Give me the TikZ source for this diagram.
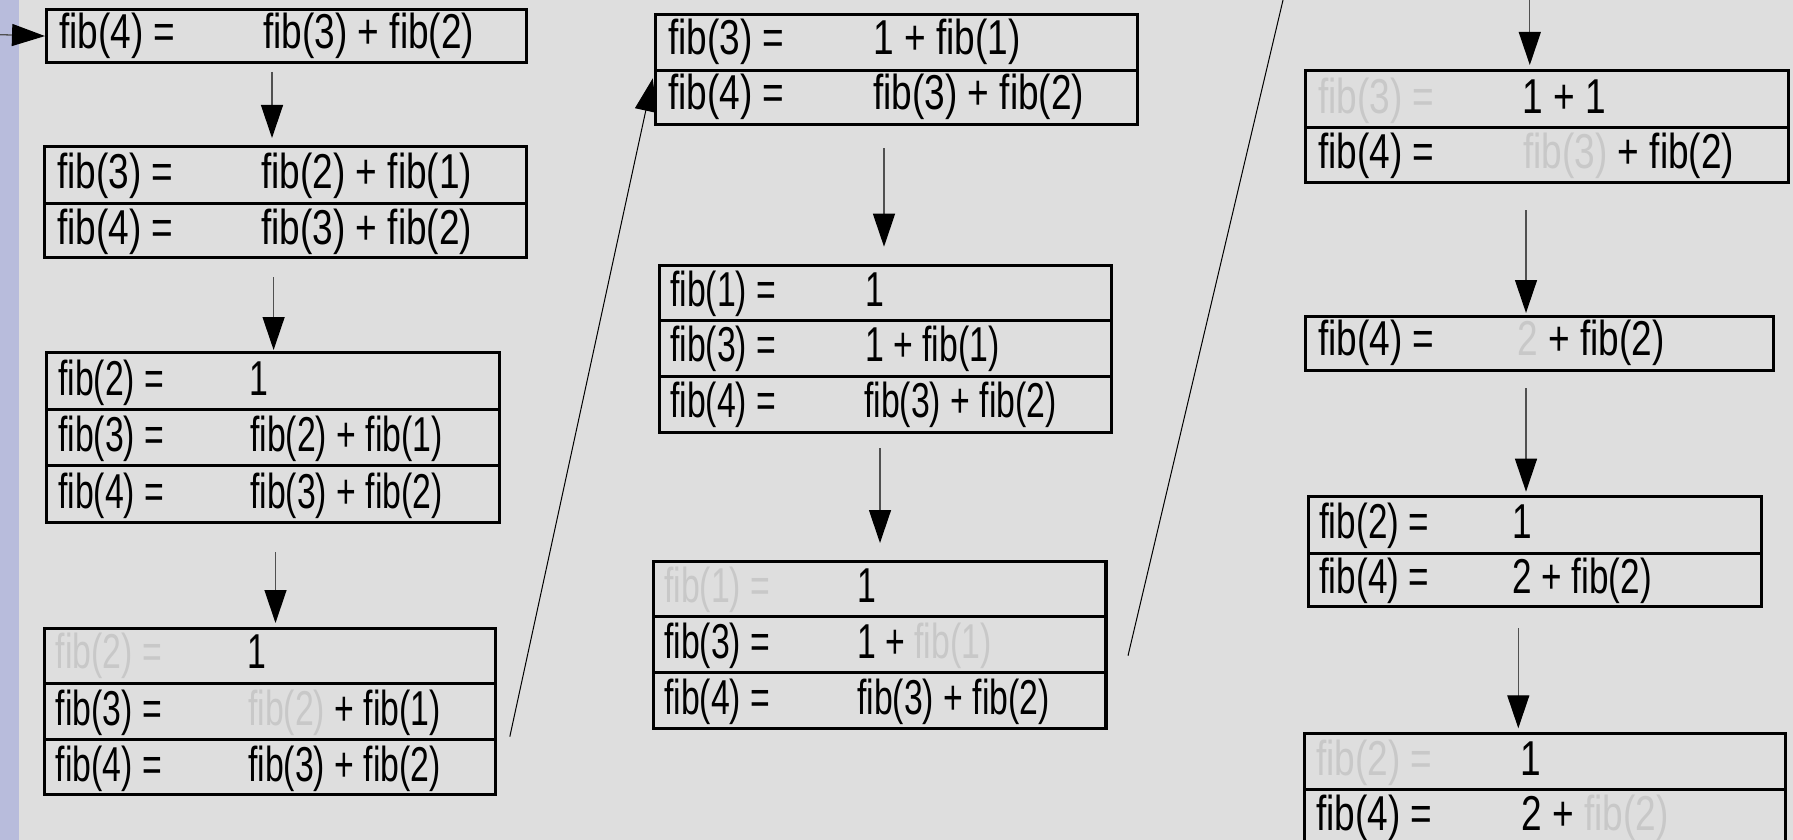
\documentclass[tikz,border=0pt]{standalone}
\usepackage{fontspec}
\setmainfont{Liberation Sans}[FakeStretch=0.756]
\newfontfamily\narrowA{Liberation Sans}[FakeStretch=0.69]
\newfontfamily\narrowB{Liberation Sans}[FakeStretch=0.717]
\usetikzlibrary{arrows.meta}
\definecolor{bg}{RGB}{222,222,222}
\definecolor{strip}{RGB}{184,188,220}
\definecolor{faint}{RGB}{200,200,200}
\definecolor{shaft}{RGB}{80,80,80}
\tikzset{
  row/.style={draw=black, line width=3.1pt, rectangle, inner sep=0pt, anchor=north west},
  lbl/.style={inner sep=0pt, anchor=base west, font=\fontsize{49pt}{55pt}\selectfont},
  lbla/.style={inner sep=0pt, anchor=base west, font=\narrowA\fontsize{49pt}{55pt}\selectfont},
  lblb/.style={inner sep=0pt, anchor=base west, font=\narrowB\fontsize{49pt}{55pt}\selectfont},
  flow/.style={draw=shaft, line width=1.3pt, -{Triangle[length=33pt,width=22pt,color=black]}},
  jump/.style={draw=black, line width=1pt},
}
\newcommand\fa[1]{{\color{faint}#1}}
\begin{document}
\begin{tikzpicture}[x=1pt,y=-1pt]
\useasboundingbox (0,0) rectangle (1793,840);
\clip (0,0) rectangle (1793,840);
\fill[bg] (0,0) rectangle (1793,840);
\fill[strip] (0,0) rectangle (19,840);

% ---------- column 1 ----------
\node[row, minimum width=480pt, minimum height=53pt] (b1a) at (45,8) {};
\node[lbl] (t1a) at (59,49) {fib(4) =};
\node[lbl] (u1a) at (263,49) {fib(3) + fib(2)};

\node[row, minimum width=482pt, minimum height=56.5pt] (b2a) at (43,145) {};
\node[row, minimum width=482pt, minimum height=54.5pt] (b2b) at (43,201.5) {};
\node[lbl] (t2a) at (57,188) {fib(3) =};
\node[lbl] (u2a) at (261,188) {fib(2) + fib(1)};
\node[lbl] (t2b) at (57,244) {fib(4) =};
\node[lbl] (u2b) at (261,244) {fib(3) + fib(2)};

\node[row, minimum width=452.5pt, minimum height=56.7pt] (b3a) at (45,351) {};
\node[row, minimum width=452.5pt, minimum height=56.3pt] (b3b) at (45,407.7) {};
\node[row, minimum width=452.5pt, minimum height=56.7pt] (b3c) at (45,464) {};
\node[lbla] (t3a) at (58,395) {fib(2) =};
\node[lbla] (u3a) at (249,395) {1};
\node[lbla] (t3b) at (58,451.7) {fib(3) =};
\node[lbla] (u3b) at (250,451.7) {fib(2) + fib(1)};
\node[lbla] (t3c) at (58,508.3) {fib(4) =};
\node[lbla] (u3c) at (250,508.3) {fib(3) + fib(2)};

\node[row, minimum width=451pt, minimum height=55pt] (b4a) at (43,626.7) {};
\node[row, minimum width=451pt, minimum height=56pt] (b4b) at (43,681.7) {};
\node[row, minimum width=451pt, minimum height=55.6pt] (b4c) at (43,737.7) {};
\node[lbla] (t4a) at (55.5,668.3) {\fa{fib(2) =}};
\node[lbla] (u4a) at (247,668.3) {1};
\node[lbla] (t4b) at (55.5,725) {fib(3) =};
\node[lbla] (u4b) at (248,725) {\fa{fib(2)} + fib(1)};
\node[lbla] (t4c) at (55.5,781) {fib(4) =};
\node[lbla] (u4c) at (248,781) {fib(3) + fib(2)};

% ---------- column 2 ----------
\node[row, minimum width=482.4pt, minimum height=56.3pt] (c1a) at (653.6,12.7) {};
\node[row, minimum width=482.4pt, minimum height=54.3pt] (c1b) at (653.6,69) {};
\node[lbl] (v1a) at (668,55) {fib(3) =};
\node[lbl] (w1a) at (873,55) {1 + fib(1)};
\node[lbl] (v1b) at (668,110) {fib(4) =};
\node[lbl] (w1b) at (873,110) {fib(3) + fib(2)};

\node[row, minimum width=452.5pt, minimum height=55.3pt] (c2a) at (657.5,264) {};
\node[row, minimum width=452.5pt, minimum height=55.7pt] (c2b) at (657.5,319.3) {};
\node[row, minimum width=452.5pt, minimum height=55.7pt] (c2c) at (657.5,375) {};
\node[lbla] (v2a) at (670,306.7) {fib(1) =};
\node[lbla] (w2a) at (865,306.7) {1};
\node[lbla] (v2b) at (670,361.7) {fib(3) =};
\node[lbla] (w2b) at (865,361.7) {1 + fib(1)};
\node[lbla] (v2c) at (670,417.3) {fib(4) =};
\node[lbla] (w2c) at (864,417.3) {fib(3) + fib(2)};

\node[row, minimum width=452.7pt, minimum height=54.7pt] (c3a) at (651.7,560.3) {};
\node[row, minimum width=452.7pt, minimum height=56pt] (c3b) at (651.7,615) {};
\node[row, minimum width=452.7pt, minimum height=55.7pt] (c3c) at (651.7,671) {};
\node[lbla] (v3a) at (664,602.7) {\fa{fib(1) =}};
\node[lbla] (w3a) at (857,602.7) {1};
\node[lbla] (v3b) at (664,658.3) {fib(3) =};
\node[lbla] (w3b) at (857,658.3) {1 + \fa{fib(1)}};
\node[lbla] (v3c) at (664,714) {fib(4) =};
\node[lbla] (w3c) at (857,714) {fib(3) + fib(2)};

% ---------- column 3 ----------
\node[row, minimum width=483pt, minimum height=56.7pt] (d1a) at (1304,69.3) {};
\node[row, minimum width=483pt, minimum height=55pt] (d1b) at (1304,126) {};
\node[lbl] (x1a) at (1318,113.3) {\fa{fib(3) =}};
\node[lbl] (y1a) at (1522,113.3) {1 + 1};
\node[lbl] (x1b) at (1318,168.3) {fib(4) =};
\node[lbl] (y1b) at (1523,168.3) {\fa{fib(3)} + fib(2)};

\node[row, minimum width=467.6pt, minimum height=54.3pt] (d2a) at (1304,315) {};
\node[lbl] (x2a) at (1318,355) {fib(4) =};
\node[lbl] (y2a) at (1517,355) {\fa{2} + fib(2)};

\node[row, minimum width=453.3pt, minimum height=57.3pt] (d3a) at (1306.7,495) {};
\node[row, minimum width=453.3pt, minimum height=52.7pt] (d3b) at (1306.7,552.3) {};
\node[lblb] (x3a) at (1319,538.3) {fib(2) =};
\node[lblb] (y3a) at (1512,538.3) {1};
\node[lblb] (x3b) at (1319,593.3) {fib(4) =};
\node[lblb] (y3b) at (1512,593.3) {2 + fib(2)};

\node[row, minimum width=481.5pt, minimum height=56.6pt] (d4a) at (1302.8,731.7) {};
\node[row, minimum width=481.5pt, minimum height=56pt] (d4b) at (1302.8,788.3) {};
\node[lbl] (x4a) at (1316,775) {\fa{fib(2) =}};
\node[lbl] (y4a) at (1520,775) {1};
\node[lbl] (x4b) at (1316,830) {fib(4) =};
\node[lbl] (y4b) at (1521,830) {2 + \fa{fib(2)}};

% ---------- connectors ----------
\coordinate (in0) at (-5,34.5);
\draw[flow] (in0) -- (b1a.west);

\coordinate (a1s) at (272,72);     \coordinate (a1e) at (272,138);
\coordinate (a2s) at (273.6,277);  \coordinate (a2e) at (273.6,350);
\coordinate (a3s) at (275.5,552);  \coordinate (a3e) at (275.5,623);
\coordinate (a4s) at (884,148);    \coordinate (a4e) at (884,246.7);
\coordinate (a5s) at (880,448);    \coordinate (a5e) at (880,543);
\coordinate (a6s) at (1529.8,-5);  \coordinate (a6e) at (1529.8,65);
\coordinate (a7s) at (1526,210);   \coordinate (a7e) at (1526,313);
\coordinate (a8s) at (1526,388);   \coordinate (a8e) at (1526,491.7);
\coordinate (a9s) at (1518.3,628.3); \coordinate (a9e) at (1518.3,728.3);
\draw[flow] (a1s) -- (a1e);
\draw[flow] (a2s) -- (a2e);
\draw[flow] (a3s) -- (a3e);
\draw[flow] (a4s) -- (a4e);
\draw[flow] (a5s) -- (a5e);
\draw[flow] (a6s) -- (a6e);
\draw[flow] (a7s) -- (a7e);
\draw[flow] (a8s) -- (a8e);
\draw[flow] (a9s) -- (a9e);

\coordinate (j1s) at (509.8,736.7); \coordinate (j1e) at (652.8,78.3);
\draw[jump, -{Triangle[length=33pt,width=22pt,color=black]}] (j1s) -- (j1e);
\coordinate (j2s) at (1128,655.7); \coordinate (j2e) at (1284.2,-5);
\draw[jump] (j2s) -- (j2e);
\end{tikzpicture}
\end{document}
